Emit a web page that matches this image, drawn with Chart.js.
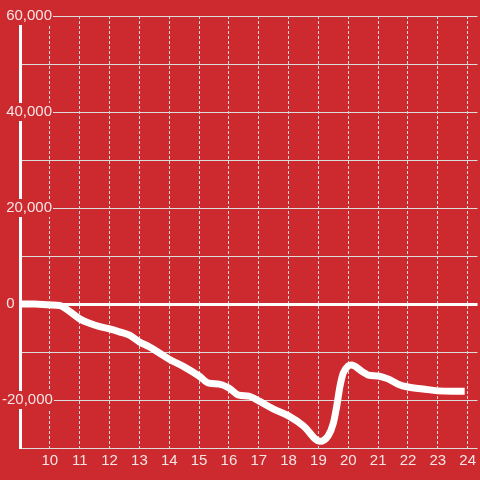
<!DOCTYPE html>
<html>
<head>
<meta charset="utf-8">
<script src="https://cdn.jsdelivr.net/npm/chart.js@4/dist/chart.umd.min.js"></script>
<style>
  html, body { margin: 0; padding: 0; background: #cd2a2f; }
  #wrap { width: 480px; height: 480px; position: relative; }
</style>
</head>
<body>
<div id="wrap"><canvas id="chart"></canvas></div>
<script>
// hours of the day (x) and running value (y)
const hours = [9, 9.5, 10, 10.33, 10.67, 11, 11.33, 11.67, 12, 12.33, 12.67, 13, 13.33, 13.67, 14, 14.5, 15, 15.33, 15.67, 16, 16.33, 16.67, 17, 17.5, 18, 18.5, 19.05, 19.33, 19.5, 19.61, 19.72, 19.83, 20, 20.1, 20.5, 20.67, 21, 21.33, 21.67, 22, 22.5, 23, 23.5, 23.9];
const values = [0, 0, -200, -300, -1600, -3100, -4000, -4700, -5200, -5800, -6500, -7900, -8900, -10200, -11500, -13100, -15000, -16500, -16700, -17500, -19000, -19200, -20200, -21900, -23300, -25400, -28600, -27400, -24800, -21400, -17200, -14400, -12900, -12700, -14200, -14800, -15000, -15600, -16700, -17300, -17700, -18100, -18200, -18200];
const yTicks = [-20000, 0, 20000, 40000, 60000];
const xTicks = [10, 11, 12, 13, 14, 15, 16, 17, 18, 19, 20, 21, 22, 23, 24];

const red = "#cd2a2f";
const textColor = "#f6e4e4";
const gridColor = "#dcdcdc";

const points = hours.map((h, i) => ({ x: h, y: values[i] }));

new Chart(document.getElementById("chart"), {
  type: "line",
  data: {
    datasets: [
      {
        data: points,
        borderColor: "#ffffff",
        borderWidth: 7,
        pointRadius: 0,
        cubicInterpolationMode: "monotone",
        borderJoinStyle: "round",
        fill: false,
      },
    ],
  },
  options: {
    responsive: true,
    maintainAspectRatio: false,
    animation: false,
    layout: { padding: { top: 16, left: 0, right: 0, bottom: 0 } },
    plugins: { legend: { display: false }, tooltip: { enabled: false } },
    scales: {
      x: {
        type: "linear",
        min: 9,
        max: 24.33,
        afterFit: (s) => { s.height = 32; },
        border: { display: false, dash: [3, 2] },
        grid: {
          color: gridColor,
          lineWidth: 1,
          drawTicks: false,
        },
        ticks: {
          stepSize: 1,
          includeBounds: false,
          autoSkip: false,
          maxRotation: 0,
          padding: 4,
          color: textColor,
          font: { family: "'Liberation Sans', Arial, sans-serif", size: 15 },
          callback: (v) => (xTicks.includes(v) ? String(v) : ""),
        },
      },
      y: {
        min: -30000,
        max: 60000,
        afterFit: (s) => { s.width = 20; },
        border: { display: true, color: "#ffffff", width: 3 },
        grid: {
          drawTicks: false,
          color: (ctx) => (ctx.tick && ctx.tick.value === 0 ? "#ffffff" : gridColor),
          lineWidth: (ctx) => (ctx.tick && ctx.tick.value === 0 ? 3 : 1),
        },
        ticks: {
          stepSize: 10000,
          autoSkip: false,
          mirror: true,
          padding: -18,
          z: 1,
          color: textColor,
          font: { family: "'Liberation Sans', Arial, sans-serif", size: 15 },
          showLabelBackdrop: (ctx) => yTicks.includes(ctx.tick.value) && ctx.tick.value !== 0,
          backdropColor: red,
          backdropPadding: { top: 0, bottom: 0, left: 0, right: 1 },
          callback: (v) => {
            if (!yTicks.includes(v)) return "";
            const s = v.toLocaleString("en-US");
            return v < 0 ? s : " " + s;
          },
        },
      },
    },
  },
});
</script>
</body>
</html>
